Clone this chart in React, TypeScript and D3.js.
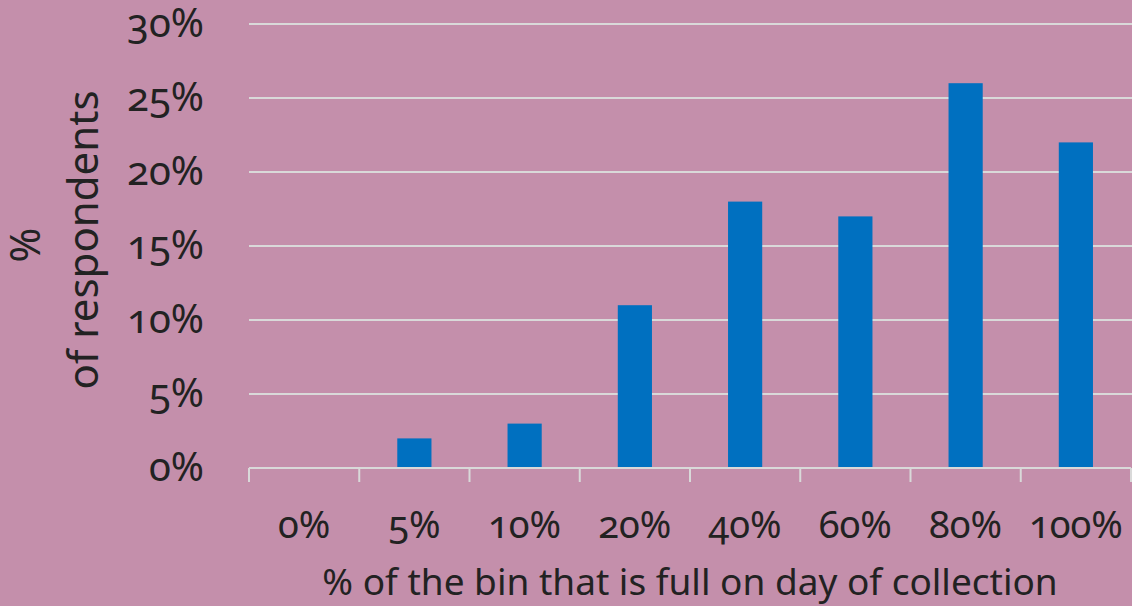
import React from "react";
import * as d3 from "d3";

const categories = ["0%", "5%", "10%", "20%", "40%", "60%", "80%", "100%"];
const values = [0, 2, 3, 11, 18, 17, 26, 22];
const yTicks = [0, 5, 10, 15, 20, 25, 30];
const yTitleLines = ["%", "of respondents"];
const xTitle = "% of the bin that is full on day of collection";

const W = 1132;
const H = 606;
const BG = "#C48FAB";
const BAR = "#0070C0";
const GRID = "#D9D9D9";
const TEXT = "#222222";
const FONT = "'Noto Sans', 'Open Sans', sans-serif";

export default function App() {
  const x = d3
    .scaleBand<string>()
    .domain(categories)
    .range([249, 1131])
    .paddingInner(0.69)
    .paddingOuter(0.345);
  const y = d3.scaleLinear().domain([0, 30]).range([468, 24]);
  const step = x.step();
  const x0 = 249;
  const boundaries = d3.range(categories.length + 1).map((i) => x0 + i * step);

  return (
    <svg
      width={W}
      height={H}
      style={{ position: "absolute", left: 0, top: 0, display: "block" }}
    >
      <rect x={0} y={0} width={W} height={H} fill={BG} />
      {yTicks.slice(1).map((t) => (
        <line key={t} x1={249} x2={W} y1={y(t)} y2={y(t)} stroke={GRID} strokeWidth={2} />
      ))}
      {categories.map((c, i) => (
        <rect
          key={c}
          x={x(c)}
          y={y(values[i])}
          width={x.bandwidth()}
          height={y(0) - y(values[i])}
          fill={BAR}
        />
      ))}
      <line x1={249} x2={1131} y1={y(0)} y2={y(0)} stroke={GRID} strokeWidth={2} />
      {boundaries.map((b, i) => (
        <line key={i} x1={b} x2={b} y1={y(0)} y2={y(0) + 14} stroke={GRID} strokeWidth={2} />
      ))}
      {yTicks.map((t) => (
        <text
          key={t}
          x={204}
          y={y(t)}
          dy="0.33em"
          textAnchor="end"
          fontFamily={FONT}
          fontSize={40}
          fill={TEXT}
          style={{ fontVariantNumeric: "oldstyle-nums" }}
        >
          {t + "%"}
        </text>
      ))}
      {categories.map((c) => (
        <text
          key={c}
          x={(x(c) as number) + x.bandwidth() / 2}
          y={538}
          textAnchor="middle"
          fontFamily={FONT}
          fontSize={38}
          fill={TEXT}
          style={{ fontVariantNumeric: "oldstyle-nums" }}
        >
          {c}
        </text>
      ))}
      <text
        x={690}
        y={595}
        textAnchor="middle"
        fontFamily={FONT}
        fontSize={37}
        fill={TEXT}
      >
        {xTitle}
      </text>
      {yTitleLines.map((l, i) => (
        <text
          key={l}
          transform={`translate(${40 + i * 58},${i === 0 ? 245 : 240}) rotate(-90)`}
          textAnchor="middle"
          fontFamily={FONT}
          fontSize={42}
          fill={TEXT}
        >
          {l}
        </text>
      ))}
    </svg>
  );
}
